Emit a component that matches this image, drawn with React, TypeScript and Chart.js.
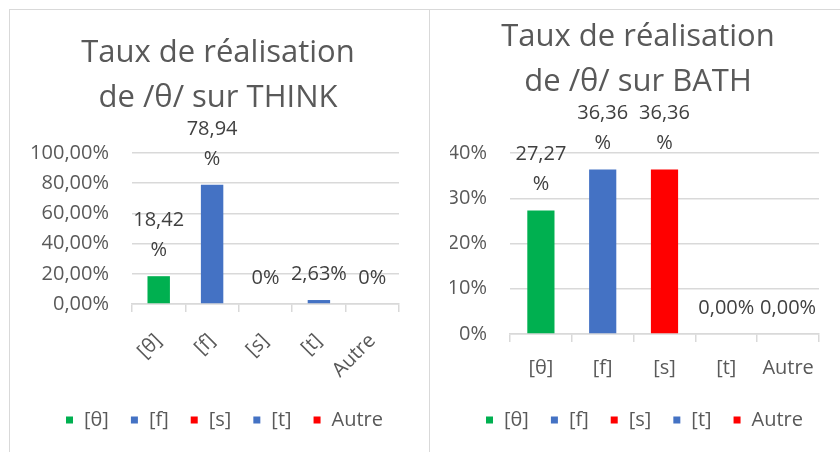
import React, { useEffect, useRef } from "react";
import { Chart, registerables } from "chart.js";

Chart.register(...registerables);

const categories = ["[θ]", "[f]", "[s]", "[t]", "Autre"];
const barColors = ["#00B050", "#4472C4", "#FF0000", "#4472C4", "#FF0000"];

const thinkTitle = ["Taux de réalisation", "de /θ/ sur THINK"];
const thinkValues = [18.42, 78.94, 0, 2.63, 0];
const thinkLabels = [["18,42", "%"], ["78,94", "%"], ["0%"], ["2,63%"], ["0%"]];
const thinkTicks = ["0,00%", "20,00%", "40,00%", "60,00%", "80,00%", "100,00%"];

const bathTitle = ["Taux de réalisation", "de /θ/ sur BATH"];
const bathValues = [27.27, 36.36, 36.36, 0, 0];
const bathLabels = [["27,27", "%"], ["36,36", "%"], ["36,36", "%"], ["0,00%"], ["0,00%"]];
const bathTicks = ["0%", "10%", "20%", "30%", "40%"];

const FONT = "'Open Sans', Lato, sans-serif";
const TEXT = "#595959";
const LABEL = "#404040";
const GRID = "#d9d9d9";

type PanelProps = {
  width: number;
  height: number;
  title: string[];
  titleY: number[];
  titleX: number;
  values: number[];
  labels: string[][];
  ticks: string[];
  max: number;
  step: number;
  rotate: boolean;
  barPct: number;
  pad: { left: number; right: number; top: number; bottom: number };
  yWidth: number;
  xHeight: number;
  legendX: number;
  legendY: number;
};

function Panel(p: PanelProps) {
  const ref = useRef<HTMLCanvasElement | null>(null);
  useEffect(() => {
    if (!ref.current) return;
    const decor = {
      id: "decor",
      afterDraw(chart: any) {
        const ctx = chart.ctx;
        ctx.save();
        // title
        ctx.font = `31px ${FONT}`;
        ctx.fillStyle = TEXT;
        ctx.textAlign = "center";
        ctx.textBaseline = "middle";
        p.title.forEach((t, i) => ctx.fillText(t, p.titleX, p.titleY[i]));
        // legend
        ctx.font = `20px ${FONT}`;
        ctx.textAlign = "left";
        let x = p.legendX;
        categories.forEach((c, i) => {
          ctx.fillStyle = barColors[i];
          ctx.fillRect(x, p.legendY - 3.5, 7, 7);
          x += 18;
          ctx.fillStyle = TEXT;
          ctx.fillText(c, x, p.legendY);
          x += ctx.measureText(c).width + 22;
        });
        ctx.restore();
      },
      afterDatasetsDraw(chart: any) {
        const ctx = chart.ctx;
        const meta = chart.getDatasetMeta(0);
        ctx.save();
        ctx.font = `20px ${FONT}`;
        ctx.fillStyle = LABEL;
        ctx.textAlign = "center";
        ctx.textBaseline = "middle";
        meta.data.forEach((el: any, i: number) => {
          const lines = p.labels[i];
          const n = lines.length;
          lines.forEach((ln, j) => {
            ctx.fillText(ln, el.x, el.y - 26 - (n - 1 - j) * 30);
          });
        });
        ctx.restore();
      },
    };
    const chart = new Chart(ref.current, {
      type: "bar",
      data: {
        labels: categories,
        datasets: [
          {
            data: p.values,
            backgroundColor: barColors,
            categoryPercentage: 1,
            barPercentage: p.barPct,
          },
        ],
      },
      options: {
        animation: false,
        responsive: false,
        layout: { padding: p.pad },
        plugins: { legend: { display: false }, title: { display: false }, tooltip: { enabled: false } },
        scales: {
          x: {
            offset: true,
            afterFit: (s: any) => {
              s.height = p.xHeight;
            },
            grid: {
              offset: true,
              drawOnChartArea: false,
              drawTicks: true,
              tickLength: 8,
              color: GRID,
              lineWidth: 1.5,
            },
            border: { display: true, color: GRID, width: 1.5 },
            ticks: {
              autoSkip: false,
              minRotation: p.rotate ? 45 : 0,
              maxRotation: p.rotate ? 45 : 0,
              padding: p.rotate ? 17 : 14,
              color: TEXT,
              font: { family: FONT, size: 20 },
            },
          },
          y: {
            min: 0,
            max: p.max,
            afterFit: (s: any) => {
              s.width = p.yWidth;
            },
            grid: { color: GRID, lineWidth: 1.5, drawTicks: false },
            border: { display: false },
            ticks: {
              stepSize: p.step,
              padding: 23,
              color: TEXT,
              font: { family: FONT, size: 20 },
              callback: (_v: any, i: number) => p.ticks[i],
            },
          },
        },
      },
      plugins: [decor],
    });
    return () => chart.destroy();
  }, []);
  return <canvas ref={ref} width={p.width} height={p.height} style={{ display: "block" }} />;
}

export default function App() {
  useEffect(() => {
    document.body.style.overflow = "hidden";
  }, []);
  const panelStyle = (left: number, width: number): React.CSSProperties => ({
    position: "absolute",
    left,
    top: 9,
    width,
    height: 443,
    borderLeft: `1px solid ${GRID}`,
    borderTop: `1px solid ${GRID}`,
    boxSizing: "border-box",
    background: "#fff",
  });
  return (
    <div>
      <div style={panelStyle(9, 420)}>
        <Panel
          width={419}
          height={442}
          title={thinkTitle}
          titleY={[43, 88]}
          titleX={208}
          values={thinkValues}
          labels={thinkLabels}
          ticks={thinkTicks}
          max={100}
          step={20}
          rotate={true}
          barPct={0.42}
          pad={{ left: 7, right: 30, top: 143, bottom: 68 }}
          yWidth={115}
          xHeight={80}
          legendX={56}
          legendY={410}
        />
      </div>
      <div style={panelStyle(429, 411)}>
        <Panel
          width={410}
          height={442}
          title={bathTitle}
          titleY={[27, 72]}
          titleX={208}
          values={bathValues}
          labels={bathLabels}
          ticks={bathTicks}
          max={40}
          step={10}
          rotate={false}
          barPct={0.44}
          pad={{ left: 20, right: 21, top: 143, bottom: 58 }}
          yWidth={60}
          xHeight={60}
          legendX={56}
          legendY={410}
        />
      </div>
    </div>
  );
}
